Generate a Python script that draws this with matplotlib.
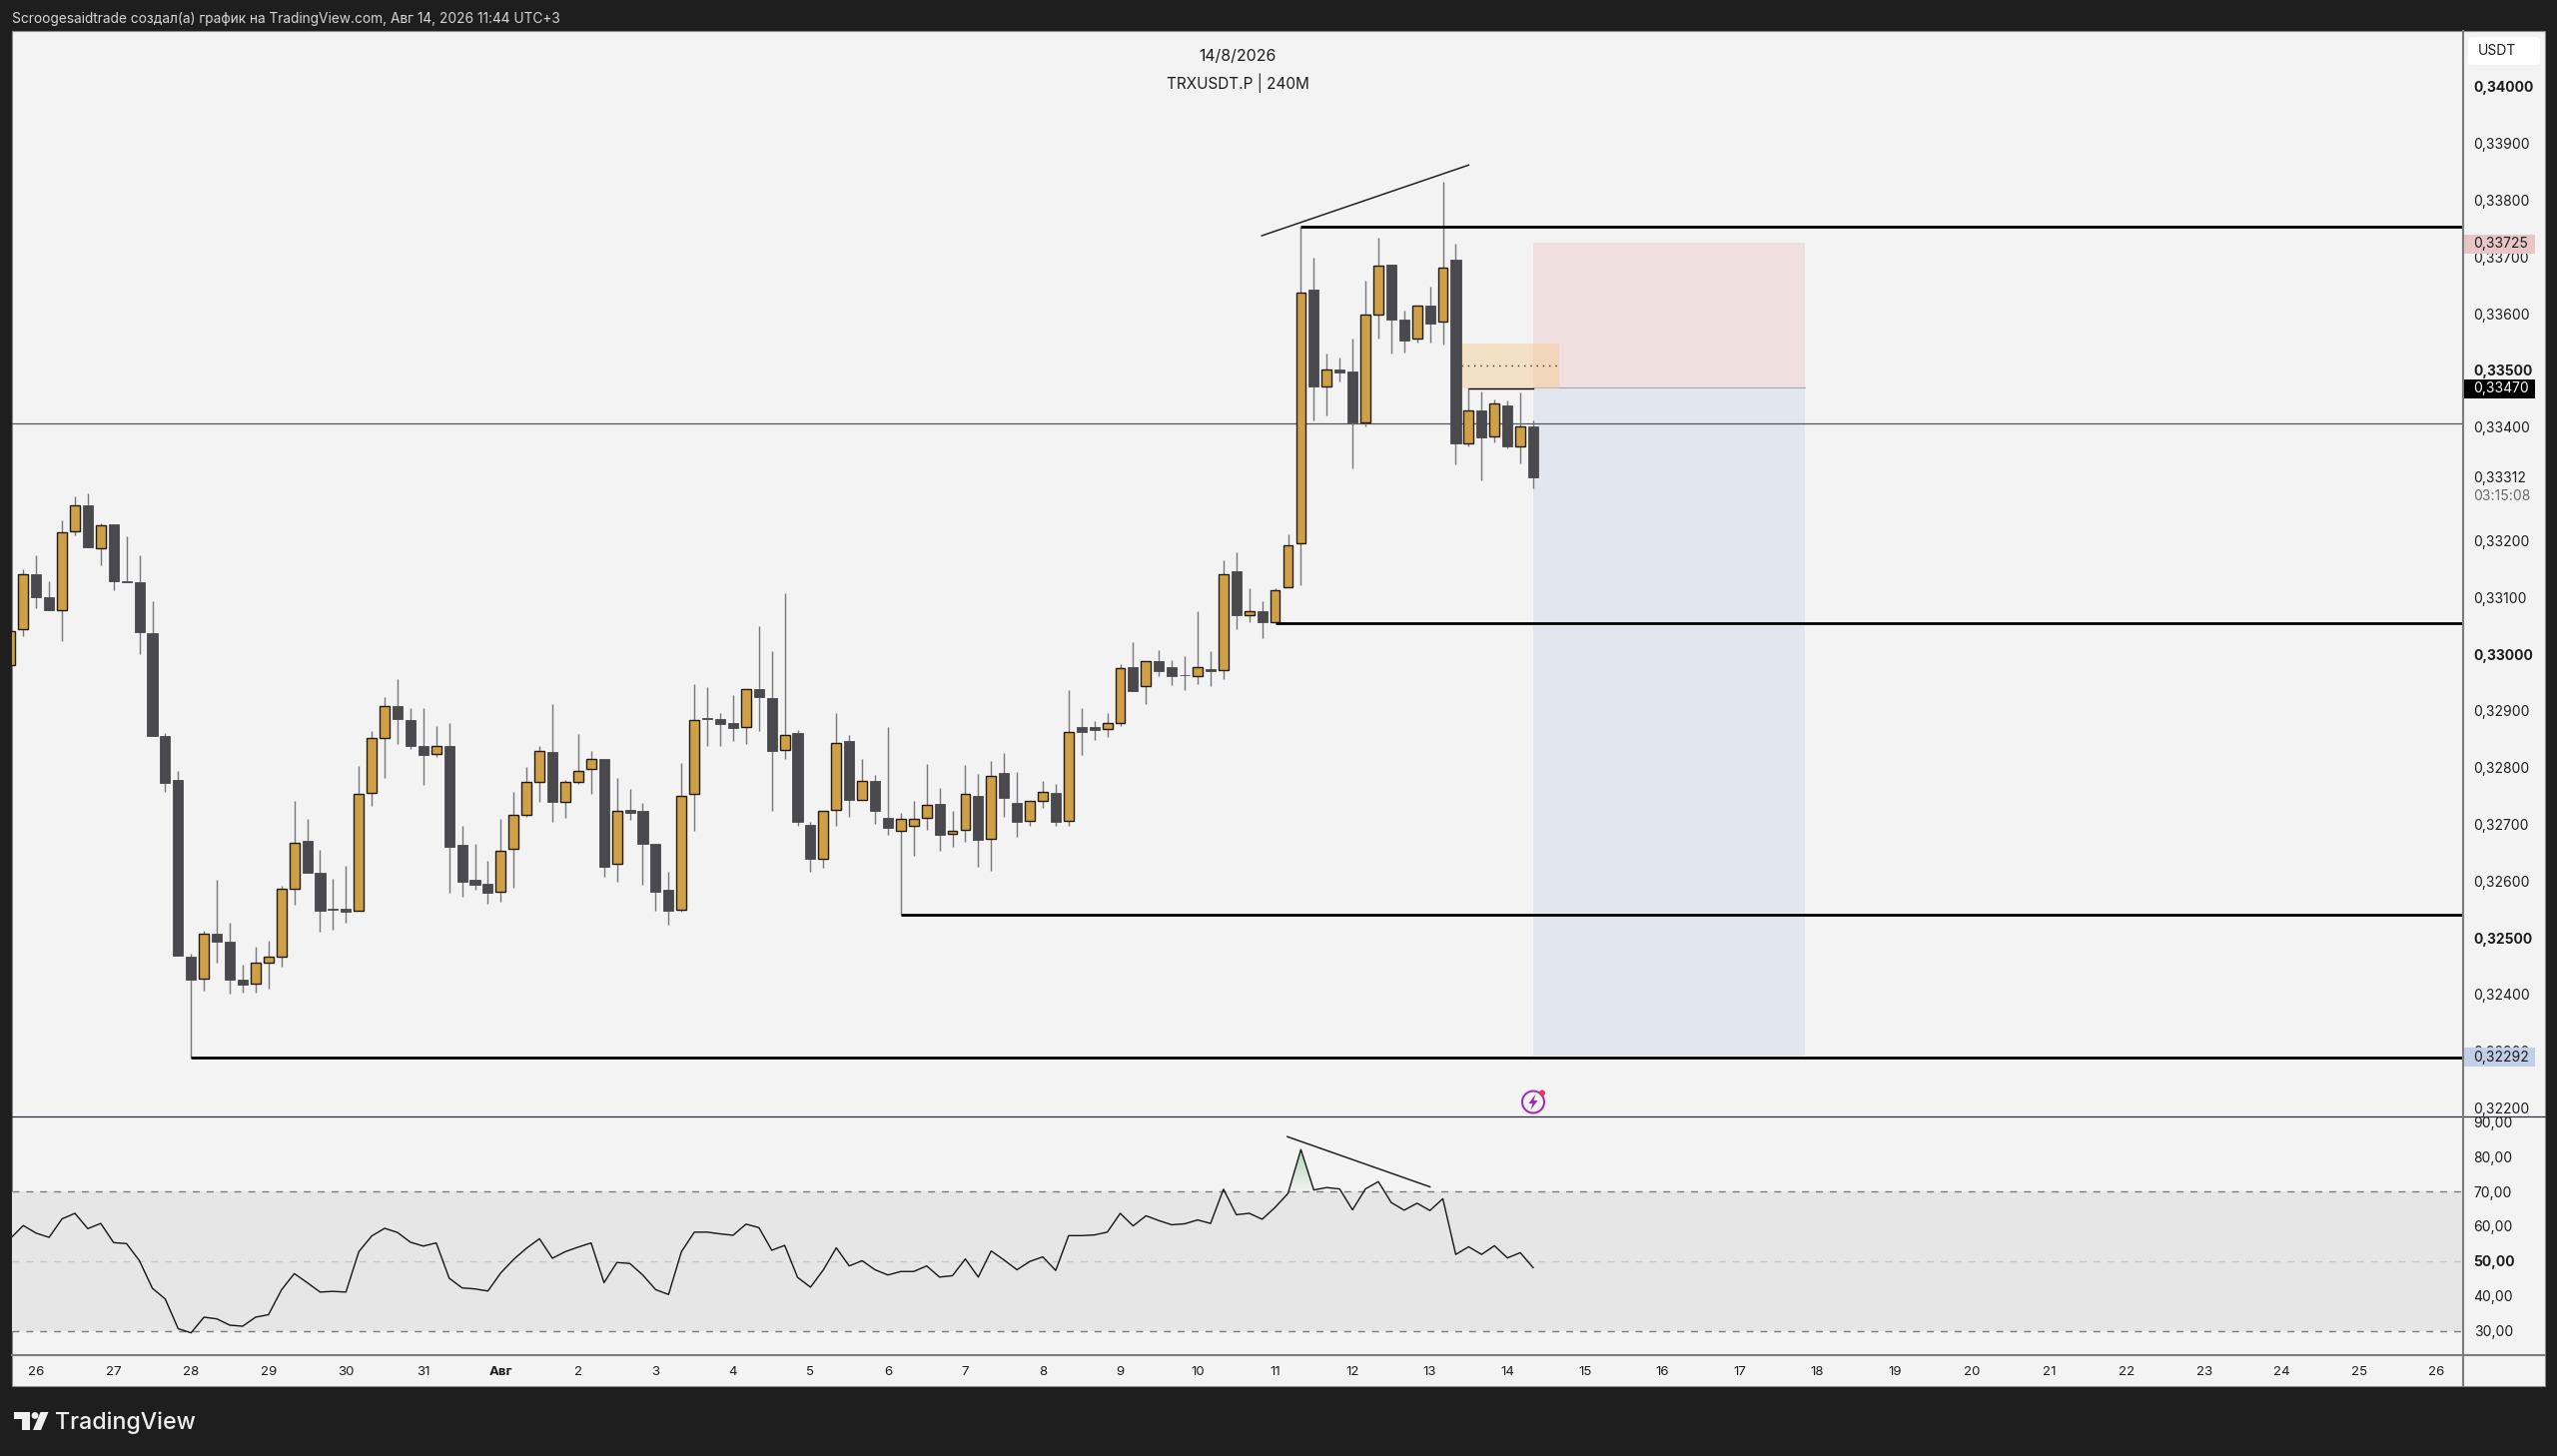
import numpy as np
import matplotlib
matplotlib.use("Agg")
import matplotlib.pyplot as plt
from matplotlib.patches import Rectangle, Circle, Polygon, FancyBboxPatch
from matplotlib.lines import Line2D
from matplotlib.path import Path
from matplotlib.transforms import Affine2D, blended_transform_factory

W, H = 2560, 1458

# 4h candles, in units of 0.00001 USDT
opens = [
    32980, 33044, 33141, 33101, 33078, 33216, 33262, 33187, 33228, 33129,
    33127, 33037, 32856, 32778, 32467, 32428, 32508, 32494, 32426, 32419,
    32456, 32467, 32587, 32671, 32614, 32551, 32551, 32547, 32755, 32853,
    32909, 32884, 32838, 32824, 32839, 32664, 32602, 32595, 32581, 32657,
    32717, 32774, 32828, 32740, 32774, 32798, 32815, 32630, 32726, 32723,
    32666, 32584, 32549, 32753, 32887, 32886, 32879, 32871, 32938, 32923,
    32831, 32861, 32699, 32639, 32725, 32847, 32743, 32776, 32711, 32688,
    32697, 32711, 32736, 32683, 32690, 32751, 32675, 32790, 32737, 32707,
    32742, 32755, 32706, 32871, 32872, 32868, 32879, 32977, 32943, 32987,
    32977, 32964, 32961, 32974, 32972, 33147, 33068, 33075, 33057, 33118,
    33195, 33643, 33472, 33502, 33498, 33409, 33599, 33686, 33590, 33556,
    33615, 33586, 33695, 33372, 33430, 33384, 33439, 33367, 33401]
highs = [
    33041, 33150, 33175, 33128, 33236, 33279, 33284, 33231, 33228, 33208,
    33174, 33094, 32861, 32794, 32472, 32513, 32602, 32526, 32453, 32484,
    32495, 32591, 32742, 32709, 32655, 32605, 32627, 32803, 32865, 32924,
    32956, 32905, 32905, 32874, 32879, 32698, 32665, 32636, 32710, 32758,
    32801, 32838, 32912, 32779, 32859, 32829, 32815, 32782, 32762, 32737,
    32666, 32617, 32808, 32948, 32942, 32896, 32928, 32938, 33049, 33005,
    33107, 32866, 32704, 32723, 32897, 32857, 32816, 32787, 32872, 32721,
    32741, 32806, 32764, 32724, 32804, 32789, 32811, 32825, 32792, 32742,
    32777, 32771, 32936, 32905, 32883, 32896, 32983, 33022, 32987, 33007,
    32989, 32996, 33075, 33005, 33165, 33179, 33116, 33094, 33117, 33211,
    33753, 33699, 33530, 33523, 33557, 33659, 33734, 33686, 33606, 33614,
    33648, 33832, 33723, 33468, 33463, 33449, 33447, 33461, 33411]
lows = [
    32980, 33031, 33081, 33077, 33023, 33209, 33188, 33156, 33113, 33126,
    33000, 32856, 32758, 32469, 32289, 32407, 32456, 32402, 32403, 32403,
    32411, 32449, 32558, 32614, 32511, 32515, 32527, 32547, 32733, 32782,
    32842, 32833, 32769, 32818, 32580, 32573, 32585, 32561, 32564, 32589,
    32714, 32739, 32704, 32712, 32772, 32753, 32608, 32599, 32708, 32594,
    32547, 32524, 32546, 32688, 32839, 32839, 32847, 32842, 32865, 32723,
    32815, 32698, 32617, 32624, 32698, 32713, 32743, 32701, 32682, 32541,
    32645, 32691, 32653, 32661, 32670, 32625, 32619, 32713, 32678, 32698,
    32729, 32698, 32698, 32823, 32849, 32854, 32874, 32935, 32912, 32962,
    32946, 32937, 32947, 32943, 32956, 33044, 33057, 33029, 33054, 33118,
    33122, 33411, 33420, 33480, 33328, 33402, 33556, 33530, 33532, 33550,
    33550, 33545, 33335, 33367, 33307, 33374, 33363, 33336, 33293]
closes = [
    33041, 33141, 33100, 33077, 33214, 33263, 33188, 33227, 33128, 33126,
    33038, 32856, 32773, 32469, 32427, 32508, 32494, 32426, 32418, 32456,
    32467, 32586, 32668, 32614, 32547, 32550, 32546, 32753, 32852, 32908,
    32885, 32839, 32823, 32839, 32661, 32598, 32593, 32580, 32654, 32716,
    32774, 32830, 32740, 32774, 32795, 32815, 32626, 32724, 32721, 32666,
    32582, 32548, 32751, 32884, 32886, 32877, 32870, 32938, 32924, 32829,
    32857, 32705, 32640, 32723, 32843, 32744, 32777, 32723, 32694, 32710,
    32710, 32734, 32682, 32689, 32753, 32673, 32786, 32747, 32705, 32742,
    32758, 32704, 32863, 32863, 32866, 32879, 32976, 32935, 32987, 32971,
    32961, 32963, 32978, 32971, 33140, 33069, 33075, 33057, 33112, 33192,
    33638, 33472, 33501, 33497, 33408, 33599, 33685, 33590, 33553, 33614,
    33583, 33682, 33371, 33430, 33382, 33441, 33367, 33402, 33312]

rsi = [
    56.5, 60.2, 58.0, 56.8, 62.1, 63.7, 59.3, 60.8, 55.3, 55.0,
    50.1, 42.2, 39.1, 30.6, 29.4, 33.9, 33.4, 31.6, 31.3, 33.9,
    34.6, 41.7, 46.4, 43.8, 41.1, 41.3, 41.1, 52.7, 57.2, 59.4,
    58.2, 55.4, 54.3, 55.2, 45.1, 42.3, 42.0, 41.4, 46.6, 50.5,
    53.7, 56.4, 50.8, 52.7, 54.0, 55.2, 43.8, 49.6, 49.3, 46.0,
    41.8, 40.4, 52.7, 58.3, 58.3, 57.8, 57.4, 60.6, 59.6, 53.1,
    54.5, 45.3, 42.5, 47.5, 53.8, 48.6, 50.1, 47.5, 46.0, 47.0,
    47.0, 48.6, 45.4, 45.8, 50.6, 45.4, 52.9, 50.3, 47.5, 49.9,
    51.2, 47.3, 57.3, 57.3, 57.5, 58.3, 63.7, 60.1, 63.0, 61.6,
    60.4, 60.7, 61.8, 60.8, 70.6, 63.3, 63.7, 62.0, 65.4, 69.4,
    82.0, 70.4, 71.1, 70.7, 64.7, 70.7, 72.8, 66.8, 64.6, 66.6,
    64.5, 67.9, 51.9, 54.1, 51.9, 54.4, 50.9, 52.4, 48.1]

# 0,33300 is covered by the countdown in the original, so it has no tick here
price_ticks = [0.340, 0.339, 0.338, 0.337, 0.336, 0.335, 0.334, 0.332, 0.331,
               0.330, 0.329, 0.328, 0.327, 0.326, 0.325, 0.324, 0.323, 0.322]
bold_prices = [0.340, 0.335, 0.330, 0.325]
rsi_ticks = [90, 80, 70, 60, 50, 40, 30]
day_labels = ["26", "27", "28", "29", "30", "31", "Авг"] + [str(d) for d in range(2, 27)]

sweep_levels = [(100, 0.33753), (98, 0.33054), (69, 0.32541), (14, 0.32289)]
last_close_line = 0.33407
entry, stop, target = 0.33470, 0.33725, 0.32292

BG = "#1e1e1e"
PANE = "#f3f3f3"
GOLD = "#cfa048"
DARK = "#4a4a4e"
WICK = "#77777a"
INK = "#1c1c1f"

plt.rcParams["font.family"] = ["Inter", "DejaVu Sans"]

fig = plt.figure(figsize=(W / 100, H / 100), dpi=100, facecolor=BG)
px = Affine2D().scale(1, -1).translate(0, H)


def pane(x0, y0, x1, y1):
    a = fig.add_axes([x0 / W, 1 - y1 / H, (x1 - x0) / W, (y1 - y0) / H])
    a.patch.set_alpha(0)
    for s in a.spines.values():
        s.set_visible(False)
    return a


fig.add_artist(Rectangle((11.5, 31), 2536.5, 1357, transform=px, fc=PANE, ec="#8a8a8a", lw=0.8, zorder=-1))

ax = pane(11.5, 31, 2465.5, 1118)
ax_rsi = pane(11.5, 1118, 2465.5, 1357)
ax_time = pane(11.5, 1357, 2465.5, 1388)

x_lim = (0.085, 190.02)
for a in (ax, ax_rsi, ax_time):
    a.set_xlim(*x_lim)
ax.set_ylim(0.321853, 0.340982)
ax_rsi.set_ylim(23.0, 91.5)

idx = np.arange(len(opens))
o = np.array(opens) / 1e5
h = np.array(highs) / 1e5
l = np.array(lows) / 1e5
c = np.array(closes) / 1e5
up = c >= o

# position tool and zones sit under the candles
ax.fill_between([118, 139.05], entry, stop, color="#efe0df", lw=0, zorder=1)
ax.fill_between([118, 139.05], target, entry, color="#e2e7ef", lw=0, zorder=1)
ax.plot([118, 139.05], [entry, entry], color="#a8a8a8", lw=0.8, zorder=1.2)
ax.fill_between([112.4, 120.0], 0.33468, 0.33547, color="#f6c98f", alpha=0.45, lw=0, zorder=1.5)
ax.plot([112.4, 120.0], [0.33509, 0.33509], color="#333333", lw=1.0, ls=(0, (1, 3.5)), zorder=1.6)
ax.plot([113, 118], [0.33468, 0.33468], color="black", lw=1.0, zorder=1.6)

ax.axhline(last_close_line, color="#55555a", lw=0.9, zorder=1.8)

ax.vlines(idx, l, h, color=WICK, lw=1.0, zorder=2)
ax.bar(idx[up], (c - o)[up], bottom=o[up], width=0.76, color=GOLD, edgecolor="#241c10", lw=1.0, zorder=3)
ax.bar(idx[~up], (o - c)[~up], bottom=c[~up], width=0.78, color=DARK, edgecolor=DARK, lw=0.6, zorder=3)

for start, level in sweep_levels:
    ax.plot([start, x_lim[1]], [level, level], color="black", lw=2.0, zorder=4, solid_capstyle="butt")
ax.plot([96.97, 113.0], [0.337374, 0.338619], color="#222222", lw=1.1, zorder=4)

# price axis
ax.yaxis.tick_right()
ax.set_yticks(price_ticks)
ax.set_yticklabels([f"{p:.5f}".replace(".", ",") for p in price_ticks], fontsize=10, color=INK)
for lab, p in zip(ax.get_yticklabels(), price_ticks):
    if p in bold_prices:
        lab.set_fontweight("bold")
ax.tick_params(axis="y", length=0, pad=8)
ax.set_xticks([])

trans = blended_transform_factory(ax.transAxes, ax.transData)
box_w = 72 / 2454
tag_h = 19 / 56825
tag_shift = 1.3 / 56825


def price_tag(p, bg, fg):
    ax.add_patch(Rectangle((1, p - tag_shift - tag_h / 2), box_w, tag_h, transform=trans, fc=bg, ec="none",
                           clip_on=False, zorder=5))
    ax.text(1 + 11 / 2454, p - tag_shift, f"{p:.5f}".replace(".", ","), transform=trans, color=fg, fontsize=10,
            va="center", clip_on=False, zorder=6)


price_tag(stop, "#e8c6c6", INK)
price_tag(entry, "#000000", "#ffffff")
price_tag(target, "#bfd0e8", INK)
ax.text(1 + 11 / 2454, 0.33312 - tag_shift, "0,33312", transform=trans, color=INK, fontsize=10, va="center", zorder=6)
ax.text(1 + 11 / 2454, 0.33312 - tag_shift - 17.5 / 56825, "03:15:08", transform=trans, color="#6a6a6a", fontsize=10,
        va="center", zorder=6)

# RSI pane
ax_rsi.axhspan(30, 70, color="#e6e6e6", lw=0, zorder=0)
ax_rsi.axhline(70, color="#7c7c7c", lw=1.0, ls=(0, (5, 5)), zorder=1)
ax_rsi.axhline(50, color="#c8c8c8", lw=1.0, ls=(0, (5, 5)), zorder=1)
ax_rsi.axhline(30, color="#7c7c7c", lw=1.0, ls=(0, (5, 5)), zorder=1)
rsi_arr = np.array(rsi)

# green above 70 fades out towards the band, clipped to the area under the line
over = ax_rsi.fill_between(idx, 70, rsi_arr, where=rsi_arr > 70, interpolate=True, color="none", lw=0)
grad = np.zeros((64, 2, 4))
grad[..., 0:3] = matplotlib.colors.to_rgb("#4caf50")
grad[..., 3] = np.linspace(0.38, 0.02, 64)[:, None]
im = ax_rsi.imshow(grad, extent=(94, 107, 70, 82), aspect="auto", zorder=1.5, interpolation="bilinear")
im.set_clip_path(Path.make_compound_path(*over.get_paths()), ax_rsi.transData)
ax_rsi.set_xlim(*x_lim)
ax_rsi.set_ylim(23.0, 91.5)

ax_rsi.plot(idx, rsi_arr, color="#15151a", lw=1.0, zorder=3)
ax_rsi.plot([98.95, 110.0], [85.7, 71.3], color="#222222", lw=1.1, zorder=3)
ax_rsi.yaxis.tick_right()
ax_rsi.set_yticks(rsi_ticks)
ax_rsi.set_yticklabels([f"{v:.2f}".replace(".", ",") for v in rsi_ticks], fontsize=10, color=INK)
ax_rsi.get_yticklabels()[4].set_fontweight("bold")
ax_rsi.tick_params(axis="y", length=0, pad=8)
ax_rsi.set_xticks([])

# time axis
day_pos = 2 + 6 * np.arange(len(day_labels))
ax_time.set_yticks([])
ax_time.set_ylim(0, 1)
ax_time.set_xticks(day_pos)
ax_time.set_xticklabels(day_labels, fontsize=9.5, color=INK)
ax_time.tick_params(axis="x", length=0, direction="in", pad=-14.5)
ax_time.get_xticklabels()[6].set_fontweight("bold")

# dividers
fig.add_artist(Line2D([11.5, 2548], [1118, 1118], transform=px, color="#2c2c3a", lw=0.9))
fig.add_artist(Line2D([11.5, 2548], [1357, 1357], transform=px, color="#7c7c7c", lw=1.5))
fig.add_artist(Line2D([2465.5, 2465.5], [31, 1388], transform=px, color="#7c7c7c", lw=1.5))

# header and titles
fig.text(11.5, 18.5, "Scroogesaidtrade создал(а) график на TradingView.com, Авг 14, 2026 11:44 UTC+3",
         transform=px, color="#d6d6d6", fontsize=9.88, va="center", ha="left")
fig.text(1239, 56.5, "14/8/2026", transform=px, color=INK, fontsize=11.4, va="center", ha="center")
fig.text(1239, 83.5, "TRXUSDT.P | 240M", transform=px, color=INK, fontsize=11, va="center", ha="center")

# USDT chip
fig.add_artist(FancyBboxPatch((2473, 39), 68, 24, boxstyle="round,pad=2,rounding_size=4", transform=px,
                              fc="white", ec="none"))
fig.text(2480.7, 51, "USDT", transform=px, color=INK, fontsize=10, va="center")

# lightning marker
fig.add_artist(Circle((1535, 1103.5), 11, transform=px, fc=PANE, ec="#9c27b0", lw=1.4))
fig.add_artist(Polygon([(1537.5, 1095.5), (1530.5, 1105), (1534.5, 1105), (1532.5, 1111.5), (1539.5, 1102), (1535.5, 1102)],
                       transform=px, fc="#9c27b0", ec="none"))
fig.add_artist(Circle((1544, 1094.5), 3, transform=px, fc="#e5395f", ec="none"))

# TradingView logo
logo = "#f0f0f0"
fig.add_artist(Polygon([(14, 1414), (30, 1414), (30, 1432), (22, 1432), (22, 1421), (14, 1421)], transform=px, fc=logo, ec="none"))
fig.add_artist(Circle((35, 1417.5), 3.4, transform=px, fc=logo, ec="none"))
fig.add_artist(Polygon([(40.5, 1414), (48.5, 1414), (41, 1432), (33, 1432)], transform=px, fc=logo, ec="none"))
fig.text(55, 1424.5, "TradingView", transform=px, color=logo, fontsize=16.7, fontweight="medium", va="center", ha="left")

fig.savefig("out.png", dpi=100, facecolor=BG)
